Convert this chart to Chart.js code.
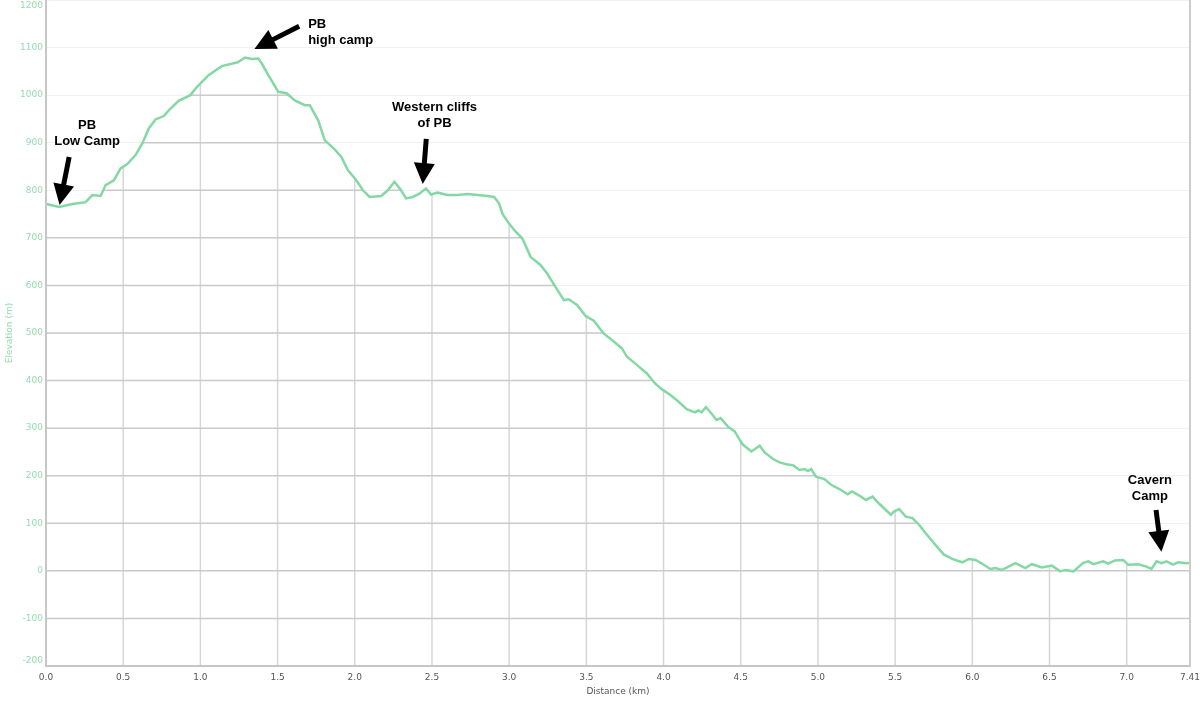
<!DOCTYPE html>
<html>
<head>
<meta charset="utf-8">
<title>Elevation profile</title>
<script src="https://cdn.jsdelivr.net/npm/chart.js@4.4.0/dist/chart.umd.min.js"></script>
<style>
  html, body { margin: 0; padding: 0; background: #fff; }
  #wrap { width: 1200px; height: 701px; }
</style>
</head>
<body>
<div id="wrap"><canvas id="myChart"></canvas></div>
<script>
// Distancia (km) i altitud (m) llegides del gràfic
const distances = [
  0, 0.085, 0.17, 0.257, 0.30, 0.354, 0.386, 0.44, 0.483, 0.526, 0.58, 0.623, 0.666, 0.709, 0.763, 0.795,
  0.859, 0.935, 0.977, 1.053, 1.139, 1.242, 1.29, 1.332, 1.375, 1.397, 1.44, 1.505, 1.558, 1.612, 1.677, 1.709,
  1.763, 1.806, 1.87, 1.913, 1.956, 2.01, 2.053, 2.096, 2.171, 2.214, 2.257, 2.30, 2.332, 2.375, 2.419, 2.461,
  2.494, 2.537, 2.60, 2.666, 2.73, 2.795, 2.86, 2.903, 2.935, 2.956, 2.999, 3.042, 3.085, 3.139, 3.203, 3.246,
  3.30, 3.354, 3.386, 3.44, 3.494, 3.548, 3.612, 3.677, 3.73, 3.763, 3.827, 3.892, 3.945, 3.988, 4.042, 4.096,
  4.15, 4.203, 4.225, 4.246, 4.274, 4.30, 4.343, 4.369, 4.419, 4.461, 4.494, 4.515, 4.569, 4.623, 4.655, 4.709,
  4.752, 4.795, 4.838, 4.881, 4.913, 4.935, 4.956, 4.988, 5.042, 5.085, 5.139, 5.193, 5.221, 5.279, 5.311, 5.354,
  5.397, 5.44, 5.472, 5.494, 5.526, 5.569, 5.612, 5.655, 5.698, 5.752, 5.816, 5.87, 5.935, 5.978, 6.021, 6.064,
  6.117, 6.15, 6.193, 6.279, 6.343, 6.386, 6.451, 6.515, 6.569, 6.601, 6.655, 6.719, 6.752, 6.784, 6.848, 6.88,
  6.924, 6.977, 7.01, 7.075, 7.128, 7.161, 7.193, 7.225, 7.258, 7.30, 7.333, 7.387, 7.41
];
const elevations = [
  771, 765, 771, 775, 790, 788, 811, 821, 846, 855, 874, 898, 930, 949, 956, 968,
  988, 1000, 1017, 1042, 1061, 1069, 1079, 1076, 1077, 1067, 1042, 1007, 1004, 989, 979, 979,
  947, 905, 886, 870, 842, 821, 800, 786, 788, 800, 818, 800, 783, 786, 793, 804,
  791, 795, 790, 790, 792, 790, 788, 786, 772, 751, 730, 713, 699, 660, 643, 625,
  597, 569, 571, 559, 536, 526, 499, 482, 468, 450, 433, 415, 394, 382, 370, 356,
  340, 333, 337, 333, 344, 335, 317, 321, 303, 293, 275, 265, 251, 263, 249, 235,
  228, 224, 222, 212, 214, 210, 214, 198, 193, 181, 172, 161, 167, 156, 149, 156,
  141, 128, 118, 125, 130, 114, 111, 97, 79, 58, 34, 25, 18, 25, 23, 15,
  4, 6, 2, 16, 6, 14, 7, 11, -1, 2, -1, 17, 20, 14, 20, 15,
  22, 23, 13, 14, 9, 4, 20, 16, 20, 13, 18, 16, 17
];

const xTicks = [0, 0.5, 1, 1.5, 2, 2.5, 3, 3.5, 4, 4.5, 5, 5.5, 6, 6.5, 7, 7.41];
const yTicks = [-200, -100, 0, 100, 200, 300, 400, 500, 600, 700, 800, 900, 1000, 1100, 1200];

// Anotacions: text, punta de la fletxa, cua i posició del text (km, m)
const noteLabels = [['PB', 'Low Camp'], ['PB', 'high camp'], ['Western cliffs', 'of PB'], ['Cavern', 'Camp']];
const noteTips = [[0.088, 769], [1.35, 1097], [2.44, 813], [7.225, 40]];
const noteTails = [[0.15, 870], [1.64, 1145], [2.463, 908], [7.19, 128]];
const noteText = [[0.266, 937], [1.698, 1149], [2.517, 975], [7.15, 191]];
const noteAlign = ['center', 'left', 'center', 'center'];

const lineColor = '#84d8a4';
const yLabelColor = '#93dcae';
const axisFont = { family: '"DejaVu Sans", Verdana, sans-serif', size: 9 };

// Graella fosca només sota la línia
const underGrid = {
  id: 'underGrid',
  beforeDatasetsDraw(chart) {
    const { ctx, chartArea, scales } = chart;
    const pts = chart.getDatasetMeta(0).data;
    ctx.save();
    ctx.beginPath();
    ctx.moveTo(pts[0].x, pts[0].y);
    pts.forEach((p) => ctx.lineTo(p.x, p.y));
    ctx.lineTo(pts[pts.length - 1].x, chartArea.bottom);
    ctx.lineTo(pts[0].x, chartArea.bottom);
    ctx.closePath();
    ctx.clip();
    ctx.lineWidth = 1.5;
    ctx.strokeStyle = '#d6d6d6';
    xTicks.forEach((v) => {
      const px = scales.x.getPixelForValue(v);
      ctx.beginPath();
      ctx.moveTo(px, chartArea.top);
      ctx.lineTo(px, chartArea.bottom);
      ctx.stroke();
    });
    ctx.strokeStyle = '#cacaca';
    yTicks.forEach((v) => {
      const py = scales.y.getPixelForValue(v);
      ctx.beginPath();
      ctx.moveTo(chartArea.left, py);
      ctx.lineTo(chartArea.right, py);
      ctx.stroke();
    });
    ctx.restore();
  },
};

const drawArrow = (ctx, x1, y1, x2, y2) => {
  const ang = Math.atan2(y2 - y1, x2 - x1);
  const headLen = 21;
  const half = 10.5;
  const bx = x2 - Math.cos(ang) * headLen;
  const by = y2 - Math.sin(ang) * headLen;
  ctx.lineWidth = 5;
  ctx.beginPath();
  ctx.moveTo(x1, y1);
  ctx.lineTo(bx + Math.cos(ang) * 2, by + Math.sin(ang) * 2);
  ctx.stroke();
  ctx.beginPath();
  ctx.moveTo(x2, y2);
  ctx.lineTo(bx - Math.sin(ang) * half, by + Math.cos(ang) * half);
  ctx.lineTo(bx + Math.sin(ang) * half, by - Math.cos(ang) * half);
  ctx.closePath();
  ctx.fill();
};

const notesPlugin = {
  id: 'notes',
  afterDraw(chart) {
    const { ctx, scales } = chart;
    ctx.save();
    ctx.fillStyle = '#000';
    ctx.strokeStyle = '#000';
    ctx.font = 'bold 13px "Liberation Sans", Arial, sans-serif';
    ctx.textBaseline = 'middle';
    noteLabels.forEach((lines, i) => {
      const tx = scales.x.getPixelForValue(noteText[i][0]);
      const ty = scales.y.getPixelForValue(noteText[i][1]);
      ctx.textAlign = noteAlign[i];
      lines.forEach((t, j) => ctx.fillText(t, tx, ty + j * 16));
      drawArrow(
        ctx,
        scales.x.getPixelForValue(noteTails[i][0]),
        scales.y.getPixelForValue(noteTails[i][1]),
        scales.x.getPixelForValue(noteTips[i][0]),
        scales.y.getPixelForValue(noteTips[i][1])
      );
    });
    ctx.restore();
  },
};

const ctx = document.getElementById('myChart').getContext('2d');
const chart = new Chart(ctx, {
  type: 'line',
  data: {
    datasets: [
      {
        label: 'Elevation',
        data: distances.map((d, i) => ({ x: d, y: elevations[i] })),
        borderColor: lineColor,
        borderWidth: 2.5,
        pointRadius: 0,
        tension: 0,
        fill: false,
      },
    ],
  },
  options: {
    responsive: true,
    maintainAspectRatio: false,
    animation: false,
    layout: { padding: 0 },
    plugins: {
      legend: { display: false },
      tooltip: { enabled: false },
    },
    scales: {
      x: {
        type: 'linear',
        min: 0,
        max: 7.41,
        afterBuildTicks: (scale) => {
          scale.ticks = xTicks.map((v) => ({ value: v }));
        },
        afterFit: (scale) => {
          scale.height = 35;
          scale.paddingLeft = 0;
          scale.paddingRight = 10;
        },
        ticks: {
          autoSkip: false,
          maxRotation: 0,
          padding: 6,
          color: '#555',
          font: axisFont,
          callback: (v) => (v === 7.41 ? '7.41' : Number(v).toFixed(1)),
        },
        grid: { display: false, drawTicks: false },
        border: { display: true, color: '#c6c6c6', width: 2, z: 1 },
        title: {
          display: true,
          text: 'Distance (km)',
          color: '#555',
          font: axisFont,
          padding: { top: 4, bottom: 4 },
        },
      },
      y: {
        min: -200,
        max: 1200,
        afterBuildTicks: (scale) => {
          scale.ticks = yTicks.map((v) => ({ value: v }));
        },
        afterFit: (scale) => {
          scale.width = 46;
          scale.paddingTop = 0;
          scale.paddingBottom = 0;
        },
        ticks: {
          padding: 3,
          color: yLabelColor,
          font: axisFont,
          // l'etiqueta superior baixa una línia i la inferior puja, com a l'original
          callback: (v) => (v === 1200 ? ['', '1200'] : v === -200 ? ['-200', ''] : String(v)),
        },
        grid: { color: '#f1f1f1', lineWidth: 1, drawTicks: false },
        border: { display: true, color: '#c6c6c6', width: 2, z: 1 },
        title: {
          display: true,
          text: 'Elevation (m)',
          color: yLabelColor,
          font: axisFont,
          padding: { top: 4, bottom: 4 },
        },
      },
      y2: {
        position: 'right',
        afterFit: (scale) => {
          scale.width = 0;
          scale.paddingTop = 0;
          scale.paddingBottom = 0;
        },
        ticks: { display: false },
        grid: { display: false, drawTicks: false },
        border: { display: true, color: '#cccccc', width: 2, z: 1 },
      },
    },
  },
  plugins: [underGrid, notesPlugin],
});
</script>
</body>
</html>
